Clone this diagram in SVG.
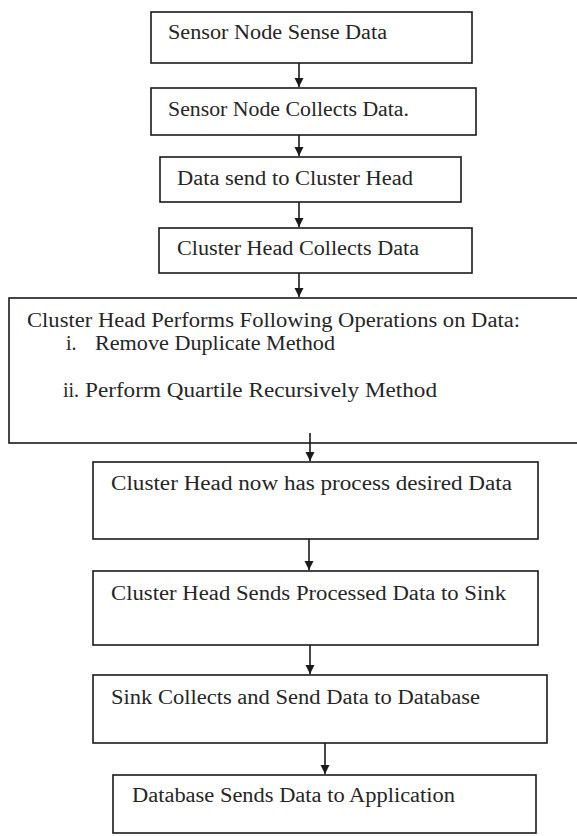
<svg xmlns="http://www.w3.org/2000/svg" width="577" height="836" viewBox="0 0 577 836">
<style>
.box{fill:#fff;stroke:#1a1a1a;stroke-width:1.6}
text{font-family:'Liberation Serif','DejaVu Serif',serif;font-size:20px;fill:#262626}
.c{stroke:#1a1a1a;stroke-width:1.6;fill:none}
</style>
<defs>
<marker id="ah" markerWidth="10" markerHeight="10" refX="9" refY="5" orient="auto" markerUnits="userSpaceOnUse">
<path d="M0,0.5 L9,5 L0,9.5 Z" fill="#1a1a1a"/>
</marker>
</defs>
<rect width="577" height="836" fill="#fff"/>
<g id="n1"><rect class="box" x="151" y="12" width="321" height="51"/><text x="168" y="39" textLength="219" lengthAdjust="spacingAndGlyphs">Sensor Node Sense Data</text></g>
<g id="n2"><rect class="box" x="151" y="88" width="325" height="47"/><text x="168" y="116" textLength="241" lengthAdjust="spacingAndGlyphs">Sensor Node Collects Data.</text></g>
<g id="n3"><rect class="box" x="160" y="157" width="301" height="45"/><text x="177" y="185" textLength="236" lengthAdjust="spacingAndGlyphs">Data send to Cluster Head</text></g>
<g id="n4"><rect class="box" x="159" y="228" width="313" height="45"/><text x="177" y="255" textLength="242" lengthAdjust="spacingAndGlyphs">Cluster Head Collects Data</text></g>
<g id="n5"><rect class="box" x="9" y="298" width="572" height="145"/>
<text x="27" y="327" textLength="493" lengthAdjust="spacingAndGlyphs">Cluster Head Performs Following Operations  on Data:</text>
<text x="66" y="350">i.</text>
<text x="95" y="350" textLength="240" lengthAdjust="spacingAndGlyphs">Remove Duplicate Method</text>
<text x="63" y="397">ii.</text>
<text x="85" y="397" textLength="352" lengthAdjust="spacingAndGlyphs">Perform Quartile Recursively Method</text></g>
<g id="n6"><rect class="box" x="93" y="462" width="445" height="77"/><text x="111" y="490" textLength="401" lengthAdjust="spacingAndGlyphs">Cluster Head now has process desired Data</text></g>
<g id="n7"><rect class="box" x="93" y="571" width="445" height="74"/><text x="111" y="600" textLength="395" lengthAdjust="spacingAndGlyphs">Cluster Head Sends Processed Data to Sink</text></g>
<g id="n8"><rect class="box" x="93" y="675" width="454" height="68"/><text x="111" y="704" textLength="369" lengthAdjust="spacingAndGlyphs">Sink Collects and Send Data to Database</text></g>
<g id="n9"><rect class="box" x="113" y="775" width="423" height="58"/><text x="132" y="802" textLength="323" lengthAdjust="spacingAndGlyphs">Database Sends Data to Application</text></g>
<g id="connectors">
<line class="c" x1="299" y1="63" x2="299" y2="87" marker-end="url(#ah)"/>
<line class="c" x1="299" y1="135" x2="299" y2="156" marker-end="url(#ah)"/>
<line class="c" x1="299" y1="202" x2="299" y2="227" marker-end="url(#ah)"/>
<line class="c" x1="299" y1="273" x2="299" y2="297" marker-end="url(#ah)"/>
<line class="c" x1="310" y1="433" x2="310" y2="461" marker-end="url(#ah)"/>
<line class="c" x1="309" y1="539" x2="309" y2="570" marker-end="url(#ah)"/>
<line class="c" x1="310" y1="645" x2="310" y2="674" marker-end="url(#ah)"/>
<line class="c" x1="325" y1="743" x2="325" y2="774" marker-end="url(#ah)"/>
</g>
</svg>
